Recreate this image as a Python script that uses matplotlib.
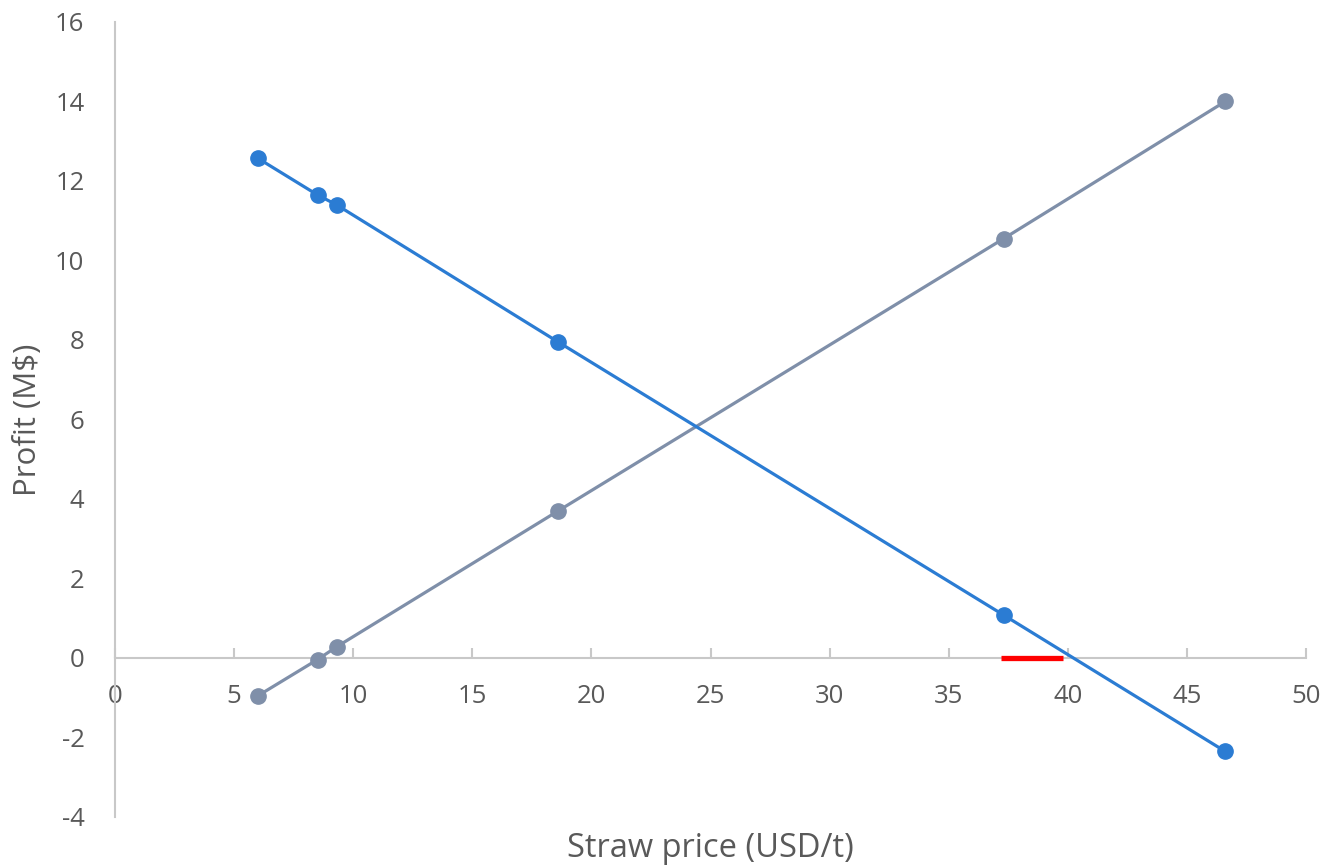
import numpy as np
import matplotlib.pyplot as plt

plt.rcParams['font.family'] = ['Open Sans', 'DejaVu Sans']
plt.rcParams['axes.unicode_minus'] = False

# straw price (USD/t)
price = [6.0, 8.5, 9.3, 18.6, 37.3, 46.6]
# profit (M$)
profit_blue = [12.57, 11.65, 11.40, 7.95, 1.08, -2.35]
profit_gray = [-0.95, -0.04, 0.28, 3.70, 10.55, 14.0]
# highlighted range on the x axis
red_x = [37.2, 39.8]
red_y = [0, 0]

fig = plt.figure(figsize=(13.25, 8.66), dpi=100)
ax = fig.add_axes([0.0868, 0.0566, 0.899, 0.918])

ax.plot(price, profit_gray, "-o", color="#7F8FA9", lw=2.3, ms=11, zorder=3)
ax.plot(price, profit_blue, "-o", color="#2B7CD3", lw=2.3, ms=11, zorder=4)
ax.plot(red_x, red_y, color="#FF0000", lw=3.8, solid_capstyle="butt", zorder=5)

ax.set_xlim(0, 50)
ax.set_ylim(-4, 16)
ax.set_xticks(np.arange(0, 51, 5))
ax.set_yticks(np.arange(-4, 17, 2))

for s in ["top", "right"]:
    ax.spines[s].set_visible(False)
ax.spines["bottom"].set_position(("data", 0))
ax.spines["bottom"].set_color("#C8C8C8")
ax.spines["left"].set_color("#C8C8C8")
ax.spines["bottom"].set_linewidth(1.5)
ax.spines["left"].set_linewidth(1.5)

ax.tick_params(axis="x", direction="in", length=7, width=1.5, color="#C8C8C8",
               labelsize=18.5, labelcolor="#595959", pad=19)
ax.tick_params(axis="y", length=0, labelsize=18.5, labelcolor="#595959", pad=22)

ax.set_xlabel("Straw price (USD/t)", fontsize=23.5, color="#595959", va="center")
ax.xaxis.set_label_coords(0.5, -0.040)
ax.set_ylabel("Profit (M$)", fontsize=22.5, color="#595959", va="center")
ax.yaxis.set_label_coords(-0.073, 0.5)

fig.savefig("out.png", dpi=100)
